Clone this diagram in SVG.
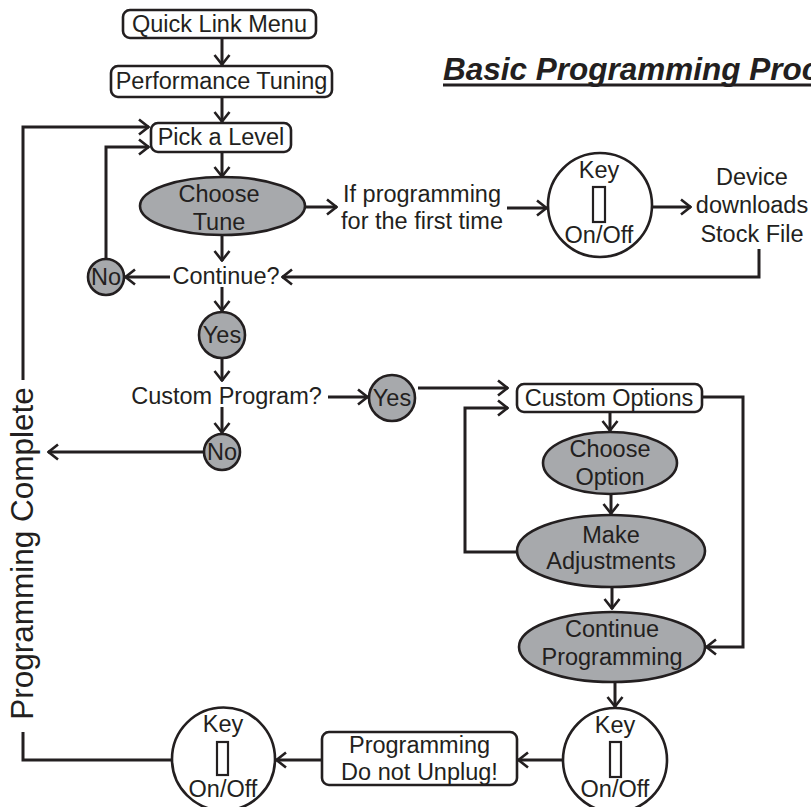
<svg xmlns="http://www.w3.org/2000/svg" width="811" height="807" viewBox="0 0 811 807">
<defs>
<style>
text{font-family:"Liberation Sans",Arial,sans-serif;font-size:23.5px;fill:#231f20;text-anchor:middle}
.box{fill:#fff;stroke:#231f20;stroke-width:2.6}
.ell{fill:#a7a9ac;stroke:#231f20;stroke-width:2.6}
.circ{fill:#fff;stroke:#231f20;stroke-width:2.6}
.sw{fill:#fff;stroke:#231f20;stroke-width:2.2}
.ln{fill:none;stroke:#231f20;stroke-width:3}
.ar{fill:none;stroke:#231f20;stroke-width:3;marker-end:url(#ah)}
.title{font-size:31.5px;font-weight:bold;font-style:italic;text-anchor:start}
.side{font-size:31.5px}
</style>
<marker id="ah" viewBox="0 0 12 18" refX="11" refY="9" markerWidth="12" markerHeight="18" markerUnits="userSpaceOnUse" orient="auto">
<path d="M1,1.5 L10.5,9 L1,16.5" fill="none" stroke="#231f20" stroke-width="2.6"/>
</marker>
</defs>

<g id="connectors">
<line class="ar" x1="222" y1="38" x2="222" y2="65"/>
<line class="ar" x1="222" y1="97" x2="222" y2="122"/>
<line class="ar" x1="222" y1="152" x2="222" y2="177"/>
<line class="ar" x1="305" y1="207" x2="337" y2="207"/>
<line class="ar" x1="507" y1="208" x2="547" y2="208"/>
<line class="ar" x1="652" y1="207" x2="691" y2="207"/>
<path class="ar" d="M759,249 V277 H282"/>
<path class="ar" d="M23,380 V127 H149"/>
<path class="ar" d="M106,259 V147 H149"/>
<line class="ar" x1="222" y1="235" x2="222" y2="261"/>
<line class="ar" x1="170" y1="277" x2="125" y2="277"/>
<line class="ar" x1="222" y1="287" x2="222" y2="311"/>
<line class="ar" x1="222" y1="358" x2="222" y2="381"/>
<line class="ar" x1="222" y1="407" x2="222" y2="433"/>
<line class="ar" x1="204" y1="452" x2="48" y2="452"/>
<line class="ar" x1="328" y1="397" x2="368" y2="397"/>
<line class="ar" x1="418" y1="388" x2="508" y2="388"/>
<path class="ar" d="M518,552 H465 V408 H508"/>
<path class="ar" d="M702,397 H743 V647 H706"/>
<line class="ar" x1="610" y1="412" x2="610" y2="431"/>
<line class="ar" x1="611" y1="494" x2="611" y2="514"/>
<line class="ar" x1="612" y1="587" x2="612" y2="609"/>
<line class="ar" x1="615" y1="682" x2="615" y2="707"/>
<line class="ar" x1="563" y1="760" x2="518" y2="760"/>
<line class="ar" x1="322" y1="760" x2="276" y2="760"/>
<path class="ln" d="M172,760 H23 V732"/>
</g>

<g id="title">
<text class="title" x="443" y="80">Basic Programming Proc</text>
<line x1="443" y1="85" x2="811" y2="85" stroke="#231f20" stroke-width="3"/>
</g>

<g id="quick-link-menu">
<rect class="box" x="123" y="10" width="193" height="28" rx="7"/>
<text x="219.5" y="32">Quick Link Menu</text>
</g>
<g id="performance-tuning">
<rect class="box" x="111" y="66" width="221" height="31" rx="7"/>
<text x="221.5" y="89">Performance Tuning</text>
</g>
<g id="pick-a-level">
<rect class="box" x="151" y="123" width="140" height="29" rx="7"/>
<text x="221" y="145">Pick a Level</text>
</g>
<g id="choose-tune">
<ellipse class="ell" cx="222.5" cy="206" rx="82.5" ry="29"/>
<text x="219" y="202">Choose</text>
<text x="219" y="230">Tune</text>
</g>
<g id="first-time">
<text x="422" y="202">If programming</text>
<text x="422" y="229">for the first time</text>
</g>
<g id="key-1">
<circle class="circ" cx="600" cy="205" r="52"/>
<text x="599" y="178">Key</text>
<rect class="sw" x="593" y="187" width="12" height="35"/>
<text x="599" y="243">On/Off</text>
</g>
<g id="device-downloads">
<text x="752" y="185">Device</text>
<text x="752" y="213">downloads</text>
<text x="752" y="242">Stock File</text>
</g>
<g id="continue">
<text x="226" y="284">Continue?</text>
</g>
<g id="no-1">
<circle class="ell" cx="106" cy="277" r="18"/>
<text x="106" y="285">No</text>
</g>
<g id="yes-1">
<circle class="ell" cx="222" cy="335" r="23"/>
<text x="222" y="343">Yes</text>
</g>
<g id="custom-program">
<text x="226.5" y="404">Custom Program?</text>
</g>
<g id="no-2">
<circle class="ell" cx="222" cy="452" r="18"/>
<text x="222" y="460">No</text>
</g>
<g id="yes-2">
<circle class="ell" cx="392" cy="398" r="23"/>
<text x="392" y="406">Yes</text>
</g>
<g id="custom-options">
<rect class="box" x="517" y="384" width="185" height="28" rx="7"/>
<text x="609" y="406">Custom Options</text>
</g>
<g id="choose-option">
<ellipse class="ell" cx="610" cy="463" rx="67" ry="31"/>
<text x="610" y="457">Choose</text>
<text x="610" y="485">Option</text>
</g>
<g id="make-adjustments">
<ellipse class="ell" cx="611" cy="551" rx="94" ry="36"/>
<text x="611" y="543">Make</text>
<text x="611" y="569">Adjustments</text>
</g>
<g id="continue-programming">
<ellipse class="ell" cx="612" cy="647" rx="93" ry="35"/>
<text x="612" y="637">Continue</text>
<text x="612" y="665">Programming</text>
</g>
<g id="key-2">
<circle class="circ" cx="615" cy="760" r="52"/>
<text x="615" y="733">Key</text>
<rect class="sw" x="610" y="742" width="11" height="35"/>
<text x="615" y="797">On/Off</text>
</g>
<g id="do-not-unplug">
<rect class="box" x="322" y="732" width="195" height="53" rx="7"/>
<text x="419.5" y="753">Programming</text>
<text x="419.5" y="780">Do not Unplug!</text>
</g>
<g id="key-3">
<circle class="circ" cx="223.5" cy="759" r="51.5"/>
<text x="223" y="732">Key</text>
<rect class="sw" x="217" y="742" width="11" height="33"/>
<text x="223" y="797">On/Off</text>
</g>
<g id="programming-complete">
<text class="side" transform="translate(33,553.5) rotate(-90)">Programming Complete</text>
</g>
</svg>
